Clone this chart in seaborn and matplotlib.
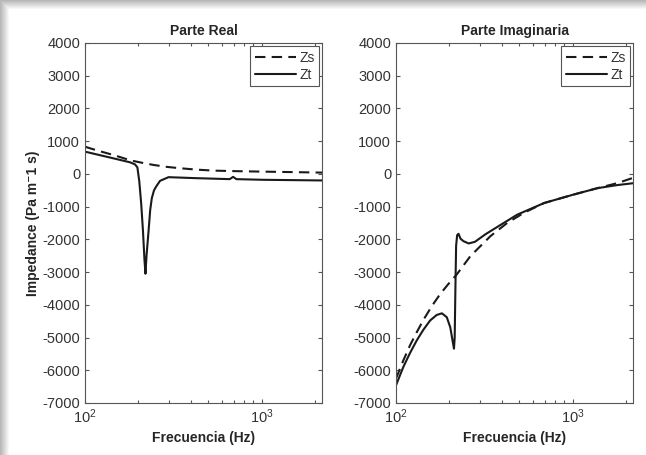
import numpy as np
import pandas as pd
import matplotlib
matplotlib.use("Agg")
import matplotlib.pyplot as plt
import seaborn as sns

# frequencies (Hz) and impedance values
freq_real_zs = [100, 120, 145, 170, 188, 215, 245, 290, 347, 430, 537, 700, 1000, 1500, 2200]
real_zs = [830, 700, 577, 460, 395, 330, 273, 215, 172, 130, 100, 85, 70, 55, 40]

freq_real_zt = [100, 145, 180, 192, 198, 203, 208, 213, 217, 220, 223, 229, 234, 239, 246, 253,
                266, 297, 425, 660, 690, 720, 1020, 2200]
real_zt = [680, 475, 354, 290, 200, -233, -900, -1750, -2600, -3050, -2500, -1750, -1100, -740,
           -500, -385, -212, -100, -130, -160, -90, -160, -180, -200]

freq_imag_zs = [100, 110, 120, 131, 143, 160, 178, 199, 221, 264, 343, 426, 530, 690, 1000,
                1385, 1800, 2200]
imag_zs = [-6255, -5700, -5240, -4840, -4460, -4030, -3670, -3350, -3070, -2510, -1900, -1500,
           -1190, -890, -640, -435, -280, -120]

freq_imag_zt = [100, 110, 120, 131, 143, 156, 170, 182, 194, 203, 209, 213, 215, 217, 219, 222,
                226, 232, 241, 258, 280, 320, 380, 486, 690, 1000, 1385, 1800, 2200]
imag_zt = [-6460, -5900, -5475, -5090, -4760, -4480, -4310, -4260, -4380, -4690, -5090, -5340,
           -5000, -3500, -2200, -1870, -1830, -1980, -2055, -2125, -2075, -1850, -1600, -1245,
           -890, -640, -435, -340, -285]

sns.set_style("ticks", {"xtick.direction": "in", "ytick.direction": "in"})
plt.rcParams['font.family'] = ['Liberation Sans', 'DejaVu Sans']
plt.rcParams['axes.unicode_minus'] = False
plt.rcParams['axes.edgecolor'] = '#555555'
plt.rcParams['xtick.color'] = '#555555'
plt.rcParams['ytick.color'] = '#555555'
plt.rcParams['xtick.labelcolor'] = '#333333'
plt.rcParams['ytick.labelcolor'] = '#333333'

fig = plt.figure(figsize=(6.46, 4.55), dpi=100)
fig.patch.set_facecolor('white')

# grey shadow frame on top and left edges
bg = fig.add_axes([0, 0, 1, 1], zorder=-10)
h, w = 455, 646
yy, xx = np.mgrid[0:h, 0:w]
d = np.minimum(yy, xx).astype(float)
shade = np.clip(0.72 + 0.28 * d / 9.0, 0, 1)
bg.imshow(np.dstack([shade] * 3), aspect='auto', extent=[0, 1, 0, 1])
bg.set_axis_off()

ax1 = fig.add_axes([0.1316, 0.1143, 0.3669, 0.7912])
ax2 = fig.add_axes([0.6130, 0.1143, 0.3669, 0.7912])

panels = [
    (ax1, 'Parte Real', freq_real_zs, real_zs, freq_real_zt, real_zt),
    (ax2, 'Parte Imaginaria', freq_imag_zs, imag_zs, freq_imag_zt, imag_zt),
]

for ax, title, fs, zs, ft, zt in panels:
    df_s = pd.DataFrame({'f': fs, 'Z': zs})
    df_t = pd.DataFrame({'f': ft, 'Z': zt})
    sns.lineplot(data=df_s, x='f', y='Z', ax=ax, color='#1a1a1a', lw=1.5,
                 linestyle=(0, (5, 3)), label='Zs')
    sns.lineplot(data=df_t, x='f', y='Z', ax=ax, color='#1a1a1a', lw=1.5, label='Zt')
    ax.set_xscale('log')
    ax.set_xlim(100, 2200)
    ax.set_ylim(-7000, 4000)
    ax.set_yticks(np.arange(-7000, 4001, 1000))
    ax.tick_params(which='both', top=True, right=True, labelsize=10.5, length=3, width=0.8)
    ax.tick_params(which='minor', length=2)
    ax.set_title(title, fontsize=10, fontweight='bold', pad=6)
    ax.set_xlabel('Frecuencia (Hz)', fontsize=10, fontweight='bold', labelpad=3)
    ax.set_ylabel('')
    for s in ax.spines.values():
        s.set_linewidth(0.8)
    leg = ax.legend(loc='upper right', fontsize=10, handlelength=3.0, handletextpad=0.2,
                    borderpad=0.3, labelspacing=0.25, fancybox=False, framealpha=1,
                    borderaxespad=0.25)
    leg.get_frame().set_edgecolor('#555555')
    leg.get_frame().set_linewidth(0.8)
    for t in leg.get_texts():
        t.set_color('#333333')

ax1.set_ylabel('Impedance (Pa m\u207b1 s)', fontsize=10, fontweight='bold', labelpad=2)

fig.savefig('out.png', dpi=100)
